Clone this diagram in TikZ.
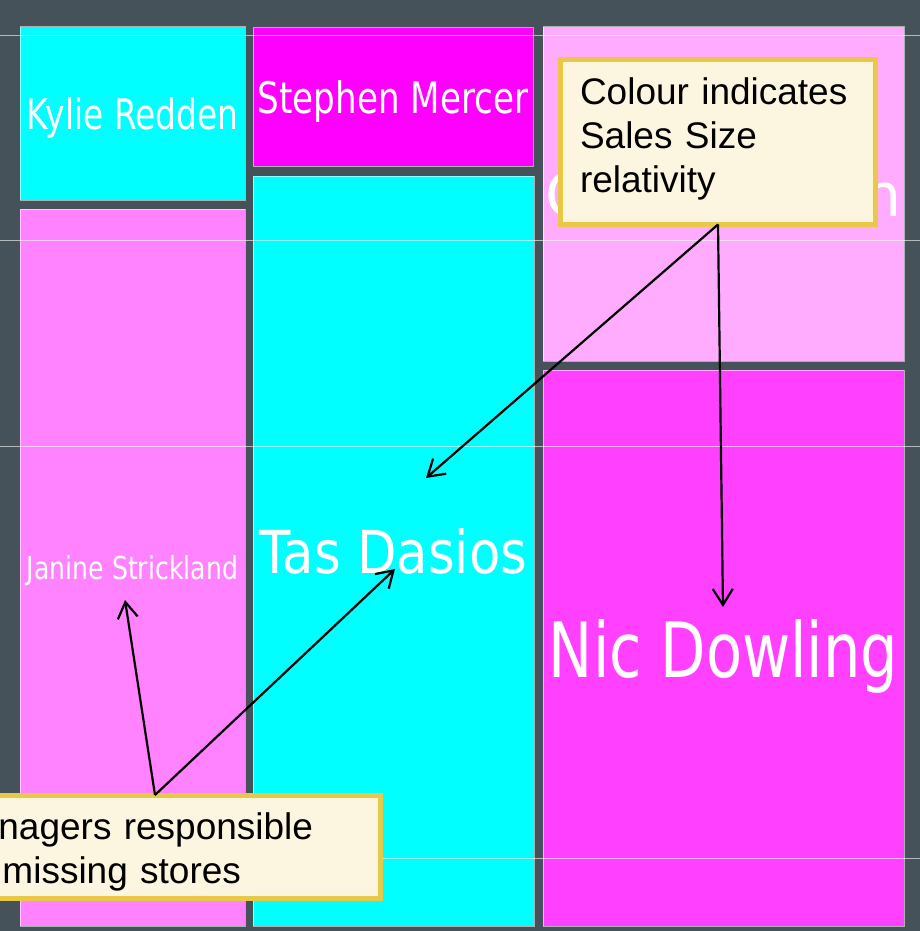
\documentclass[tikz,border=0pt]{standalone}
\usepackage{fontspec}
\setmainfont{Liberation Sans}
\newfontfamily\namefont{DejaVu Sans}
\usetikzlibrary{arrows.meta}
\definecolor{bgslate}{RGB}{69,82,90}
\definecolor{tilecyan}{RGB}{0,255,255}
\definecolor{tilemag}{RGB}{255,0,255}
\definecolor{tilepinkA}{RGB}{255,130,255}
\definecolor{tilepinkB}{RGB}{255,172,255}
\definecolor{tilemagB}{RGB}{255,64,255}
\definecolor{calloutfill}{RGB}{252,246,224}
\definecolor{calloutedge}{RGB}{233,200,72}
\newcommand{\tilename}[3]{\resizebox{#1pt}{#2pt}{\namefont #3}}
\tikzset{
  tile/.style={rectangle, draw=white, draw opacity=0.55, line width=1pt,
    inner sep=0pt, outer sep=0pt, text=white, text depth=0pt},
  callout/.style={rectangle, draw=calloutedge, fill=calloutfill, line width=5pt,
    inner sep=0pt, outer sep=0pt, align=left, text=black,
    font=\fontsize{37}{44}\selectfont},
  gridline/.style={draw=white, draw opacity=0.6, line width=0.8pt},
  ptr/.style={draw=black, line width=2.2pt, -{Straight Barb[length=16pt,width=20pt]}}
}
\begin{document}
\begin{tikzpicture}[x=1pt,y=-1pt]
\useasboundingbox (0,0) rectangle (920,931);
\clip (0,0) rectangle (920,931);
\fill[bgslate] (0,0) rectangle (920,931);

% tiles
\node[tile, fill=tilecyan, minimum width=225pt, minimum height=173pt] (kylie) at (132.5,113.5)
  {\tilename{212}{32}{Kylie Redden}};
\node[tile, fill=tilemag, minimum width=280pt, minimum height=138pt] (stephen) at (393,97)
  {\tilename{270}{33}{Stephen Mercer}};
\node[tile, fill=tilecyan, minimum width=281pt, minimum height=750pt] (tas) at (393.5,551)
  {\tilename{267}{45}{Tas Dasios}};
\node[tile, fill=tilepinkA, minimum width=225pt, minimum height=717pt] (janine) at (132.5,567.5)
  {\tilename{211}{24}{Janine Strickland}};
\node[tile, fill=tilepinkB, minimum width=361pt, minimum height=334pt] (hidden) at (723.5,194)
  {\namefont\fontsize{60}{60}\selectfont\makebox[356pt][s]{C\hfill n}};
\node[tile, fill=tilemagB, minimum width=361pt, minimum height=556pt] (nic) at (723.5,648)
  {\tilename{349}{58}{Nic Dowling}};

% faint horizontal guide lines
\draw[gridline] (0,35) -- (920,35);
\draw[gridline] (0,240) -- (920,240);
\draw[gridline] (0,446) -- (920,446);
\draw[gridline] (0,858) -- (920,858);

% callouts
\node[callout, minimum width=315pt, minimum height=165pt, text width=276pt] (note1) at (718,142)
  {Colour indicates\\Sales Size\\relativity\rule[-14pt]{0pt}{0pt}};
\node[callout, minimum width=450pt, minimum height=103pt, text width=416pt] (note2) at (155,846.5)
  {\rule{0pt}{37pt}Managers responsible\\for missing stores};

% arrow targets
\coordinate (tTasA) at (426,478);
\coordinate (tNic) at (723,607);
\coordinate (tJan) at (125,600);
\coordinate (tTasB) at (395,569);

\draw[ptr] (note1.south) -- (tTasA);
\draw[ptr] (note1.south) -- (tNic);
\draw[ptr] (note2.north) -- (tJan);
\draw[ptr] (note2.north) -- (tTasB);
\end{tikzpicture}
\end{document}
